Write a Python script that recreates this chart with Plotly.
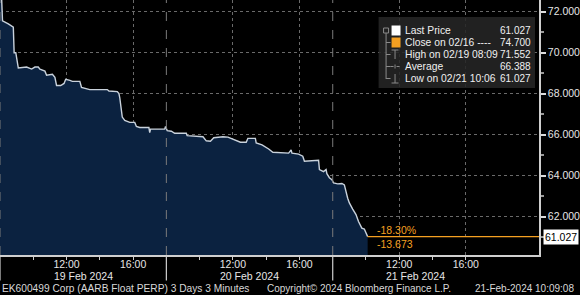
import plotly.graph_objects as go

# ---- data (3-minute bars, trading hours 08:00-18:00) ----
times = [
    "2024-02-19 08:00", "2024-02-19 08:09", "2024-02-19 08:30", "2024-02-19 08:48", "2024-02-19 08:51",
    "2024-02-19 08:57", "2024-02-19 09:06", "2024-02-19 09:36", "2024-02-19 09:54", "2024-02-19 10:06",
    "2024-02-19 10:18", "2024-02-19 10:24", "2024-02-19 10:42", "2024-02-19 10:48", "2024-02-19 11:09",
    "2024-02-19 11:18", "2024-02-19 11:24", "2024-02-19 11:39", "2024-02-19 11:51", "2024-02-19 11:57",
    "2024-02-19 12:12", "2024-02-19 12:21", "2024-02-19 12:48", "2024-02-19 12:54", "2024-02-19 13:24",
    "2024-02-19 14:00", "2024-02-19 14:27", "2024-02-19 14:33", "2024-02-19 15:03", "2024-02-19 15:09",
    "2024-02-19 15:12", "2024-02-19 15:21", "2024-02-19 15:30", "2024-02-19 15:48", "2024-02-19 16:06",
    "2024-02-19 16:12", "2024-02-19 16:24", "2024-02-19 16:48", "2024-02-19 16:57", "2024-02-19 17:00",
    "2024-02-19 17:03", "2024-02-19 17:54", "2024-02-19 17:57",
    "2024-02-20 08:03", "2024-02-20 08:18", "2024-02-20 08:30", "2024-02-20 09:12", "2024-02-20 09:15",
    "2024-02-20 10:12", "2024-02-20 10:24", "2024-02-20 10:39", "2024-02-20 10:51", "2024-02-20 11:24",
    "2024-02-20 11:42", "2024-02-20 11:57", "2024-02-20 12:12", "2024-02-20 12:27", "2024-02-20 12:48",
    "2024-02-20 12:54", "2024-02-20 13:21", "2024-02-20 13:24", "2024-02-20 13:45", "2024-02-20 14:03",
    "2024-02-20 14:09", "2024-02-20 14:24", "2024-02-20 15:21", "2024-02-20 15:30", "2024-02-20 15:33",
    "2024-02-20 15:57", "2024-02-20 16:12", "2024-02-20 16:18", "2024-02-20 16:45", "2024-02-20 17:03",
    "2024-02-20 17:09", "2024-02-20 17:12", "2024-02-20 17:27", "2024-02-20 17:36", "2024-02-20 17:39",
    "2024-02-20 17:48", "2024-02-20 17:57",
    "2024-02-21 08:03", "2024-02-21 08:18", "2024-02-21 08:33", "2024-02-21 08:42", "2024-02-21 08:54",
    "2024-02-21 09:00", "2024-02-21 09:12", "2024-02-21 09:24", "2024-02-21 09:33", "2024-02-21 09:45",
    "2024-02-21 09:54", "2024-02-21 10:06",
]
prices = [
    74.70, 71.552, 71.40, 71.25, 70.00,
    70.00, 69.25, 69.30, 69.20, 69.30,
    69.30, 69.20, 69.10, 68.90, 68.95,
    68.80, 68.40, 68.40, 68.50, 68.70,
    68.65, 68.60, 68.60, 68.30, 68.20,
    68.20, 68.20, 68.13, 68.10, 68.00,
    67.80, 66.86, 66.70, 66.60, 66.60,
    66.40, 66.35, 66.35, 66.35, 66.10,
    66.27, 66.27, 66.40,
    66.20, 66.17, 66.07, 66.07, 65.95,
    65.90, 65.70, 65.68, 65.85, 65.90,
    65.88, 65.80, 65.72, 65.63, 65.63,
    65.82, 65.82, 65.60, 65.50, 65.38,
    65.30, 65.14, 65.10, 65.25, 65.10,
    65.05, 64.95, 64.70, 64.72, 64.75,
    64.75, 64.30, 64.20, 64.30, 64.10,
    63.90, 63.80,
    63.65, 63.60, 63.62, 63.55, 62.90,
    62.67, 62.37, 62.10, 61.76, 61.44,
    61.40, 61.027,
]

last_price = 61.027
chg_pct = "-18.30%"
chg_abs = "-13.673"

legend_labels = ["Last Price", "Close on 02/16 ----", "High on 02/19 08:09", "Average", "Low on 02/21 10:06"]
legend_values = ["61.027", "74.700", "71.552", "66.388", "61.027"]

days = ["2024-02-19", "2024-02-20", "2024-02-21"]
day_labels = ["19 Feb 2024", "20 Feb 2024", "21 Feb 2024"]
tick_hours = ["12:00", "16:00"]
minor_hours = ["10:00", "14:00"]
y_ticks = [62, 64, 66, 68, 70, 72]
y_minor = [61, 63, 65, 67, 69, 71]

x_start = "2024-02-19 08:00"
x_end = "2024-02-22 10:24"

FONT = "Liberation Sans, Arial, sans-serif"
ORANGE = "#f5a021"
GRID = "#6a6a6a"

fig = go.Figure()
fig.add_trace(go.Scatter(
    x=times, y=prices, mode="lines", fill="tozeroy",
    fillcolor="#0b2240", line=dict(color="#c9d2dc", width=1.4),
    hoverinfo="skip", showlegend=False,
))

tickvals = [f"{d} {h}" for d in days for h in tick_hours]
ticktext = [h for d in days for h in tick_hours]
minorvals = [f"{d} {h}" for d in days for h in minor_hours]

shapes = []
annotations = []

# day separators: dashed in plot, solid below axis
for d in days:
    shapes.append(dict(type="line", xref="x", yref="paper", x0=f"{d} 08:00", x1=f"{d} 08:00",
                       y0=0, y1=1, line=dict(color="#7a7a7a", width=1, dash="dash"), layer="above"))
    shapes.append(dict(type="line", xref="x", yref="paper", x0=f"{d} 08:00", x1=f"{d} 08:00",
                       y0=-0.10, y1=0, line=dict(color="#cfcfcf", width=1.2), layer="above"))

# last-price orange line
shapes.append(dict(type="line", xref="x", yref="y", x0=times[-1], x1=x_end,
                   y0=last_price, y1=last_price, line=dict(color=ORANGE, width=1.3)))

for d, lab in zip(days, day_labels):
    annotations.append(dict(x=f"{d} 13:00", y=-0.084, xref="x", yref="paper", text=lab,
                            showarrow=False, font=dict(color="#e6e6e6", size=10.5, family=FONT),
                            xanchor="center", yanchor="middle"))

annotations.append(dict(x=times[-1], y=last_price, xref="x", yref="y", text=chg_pct, showarrow=False,
                        xanchor="left", yanchor="bottom", xshift=7, yshift=-1,
                        font=dict(color=ORANGE, size=10.5, family=FONT)))
annotations.append(dict(x=times[-1], y=last_price, xref="x", yref="y", text=chg_abs, showarrow=False,
                        xanchor="left", yanchor="top", xshift=7, yshift=1,
                        font=dict(color=ORANGE, size=10.5, family=FONT)))

# last price tag on axis
annotations.append(dict(x=1, y=last_price, xref="paper", yref="y", text=f"{last_price:.3f}",
                        showarrow=False, xanchor="left", yanchor="middle", xshift=4,
                        bgcolor="#ffffff", font=dict(color="#000000", size=10.5, family=FONT),
                        borderpad=1))

# legend box
W, H = 541.0, 255.0
def px(x):
    return x / W
def py(y):
    return 1 - y / H

shapes.append(dict(type="rect", xref="paper", yref="paper", x0=px(380), x1=px(537), y0=py(88), y1=py(17),
                   fillcolor="rgba(38,38,38,0.88)", line=dict(width=0), layer="above"))
row_y = [30.5, 42.5, 54.5, 66.5, 78.5]
for lab, val, ry in zip(legend_labels, legend_values, row_y):
    annotations.append(dict(x=px(404), y=py(ry), xref="paper", yref="paper", text=lab, showarrow=False,
                            xanchor="left", yanchor="middle",
                            font=dict(color="#f0f0f0", size=10.3, family=FONT)))
    annotations.append(dict(x=px(535), y=py(ry), xref="paper", yref="paper", text=val, showarrow=False,
                            xanchor="right", yanchor="middle",
                            font=dict(color="#f0f0f0", size=10, family=FONT)))
# colour swatches
shapes.append(dict(type="rect", xref="paper", yref="paper", x0=px(393), x1=px(402), y0=py(35.5), y1=py(25.5),
                   fillcolor="#ffffff", line=dict(width=0), layer="above"))
shapes.append(dict(type="rect", xref="paper", yref="paper", x0=px(393), x1=px(402), y0=py(47.5), y1=py(37.5),
                   fillcolor=ORANGE, line=dict(width=0), layer="above"))
# tree lines
TREE = "#8a8a8a"
shapes.append(dict(type="rect", xref="paper", yref="paper", x0=px(385), x1=px(390), y0=py(33), y1=py(28),
                   line=dict(color=TREE, width=1), layer="above"))
shapes.append(dict(type="line", xref="paper", yref="paper", x0=px(387.5), x1=px(387.5), y0=py(79), y1=py(33),
                   line=dict(color=TREE, width=1), layer="above"))
for ry in row_y[1:]:
    shapes.append(dict(type="line", xref="paper", yref="paper", x0=px(387.5), x1=px(392), y0=py(ry), y1=py(ry),
                       line=dict(color=TREE, width=1), layer="above"))
# high glyph (T)
shapes.append(dict(type="line", xref="paper", yref="paper", x0=px(393), x1=px(400), y0=py(50), y1=py(50),
                   line=dict(color=TREE, width=1), layer="above"))
shapes.append(dict(type="line", xref="paper", yref="paper", x0=px(396.5), x1=px(396.5), y0=py(59), y1=py(50),
                   line=dict(color=TREE, width=1), layer="above"))
# average glyph
shapes.append(dict(type="line", xref="paper", yref="paper", x0=px(392), x1=px(402), y0=py(66.5), y1=py(66.5),
                   line=dict(color=TREE, width=1, dash="dot"), layer="above"))
shapes.append(dict(type="line", xref="paper", yref="paper", x0=px(396.5), x1=px(396.5), y0=py(68.5), y1=py(64.5),
                   line=dict(color=TREE, width=1), layer="above"))
# low glyph (inverted T)
shapes.append(dict(type="line", xref="paper", yref="paper", x0=px(393), x1=px(400), y0=py(83), y1=py(83),
                   line=dict(color=TREE, width=1), layer="above"))
shapes.append(dict(type="line", xref="paper", yref="paper", x0=px(396.5), x1=px(396.5), y0=py(83), y1=py(74),
                   line=dict(color=TREE, width=1), layer="above"))

# footer
annotations.append(dict(x=0, y=-0.133, xref="paper", yref="paper",
                        text="EK600499 Corp (AARB Float PERP) 3 Days 3 Minutes", showarrow=False,
                        xanchor="left", yanchor="middle", font=dict(color="#d8d8d8", size=10.2, family=FONT)))
annotations.append(dict(x=px(266), y=-0.133, xref="paper", yref="paper",
                        text="Copyright© 2024 Bloomberg Finance L.P.", showarrow=False,
                        xanchor="left", yanchor="middle", font=dict(color="#d8d8d8", size=10, family=FONT)))
annotations.append(dict(x=px(578), y=-0.133, xref="paper", yref="paper",
                        text="21-Feb-2024 10:09:08", showarrow=False,
                        xanchor="right", yanchor="middle", font=dict(color="#d8d8d8", size=10, family=FONT)))

fig.update_layout(
    width=580, height=295,
    margin=dict(l=0, r=39, t=0, b=40),
    paper_bgcolor="#000000", plot_bgcolor="#000000",
    shapes=shapes, annotations=annotations,
    showlegend=False,
    xaxis=dict(
        type="date",
        range=[x_start, x_end],
        rangebreaks=[dict(pattern="hour", bounds=[18, 8])],
        tickmode="array", tickvals=tickvals, ticktext=ticktext,
        showgrid=True, gridcolor=GRID, griddash="dot", gridwidth=1,
        ticks="outside", ticklen=3, tickcolor="#cfcfcf",
        ticklabelstandoff=-4,
        minor=dict(tickmode="array", tickvals=minorvals, ticks="outside", ticklen=3,
                   tickcolor="#cfcfcf", showgrid=False),
        showline=True, linecolor="#cfcfcf", linewidth=1.5,
        tickfont=dict(color="#e6e6e6", size=10.5, family=FONT),
        zeroline=False, fixedrange=True,
    ),
    yaxis=dict(
        side="right",
        range=[60.13, 72.57],
        tickmode="array", tickvals=y_ticks, ticktext=[f"{v:.3f}" for v in y_ticks],
        showgrid=True, gridcolor=GRID, griddash="dot", gridwidth=1,
        ticks="outside", ticklen=5, tickwidth=1.5, tickcolor="#dcdcdc",
        minor=dict(tickmode="array", tickvals=y_minor, ticks="outside", ticklen=3,
                   tickcolor="#9a9a9a", showgrid=False),
        showline=True, linecolor="#cfcfcf", linewidth=1.5,
        tickfont=dict(color="#e6e6e6", size=10.5, family=FONT),
        zeroline=False, fixedrange=True,
    ),
)

fig.write_html("out.html")
